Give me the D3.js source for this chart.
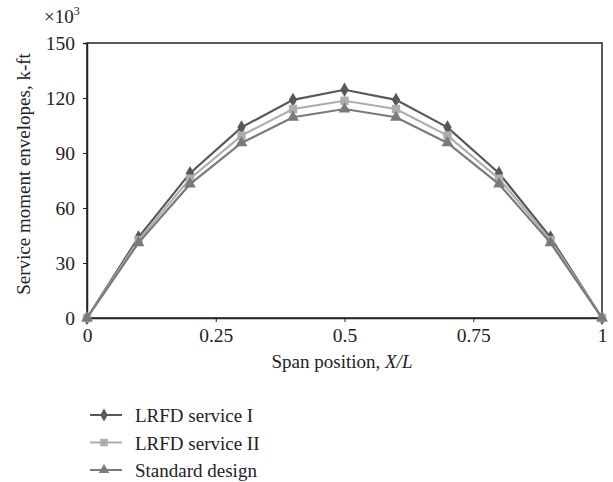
<!DOCTYPE html>
<html>
<head>
<meta charset="utf-8">
<script src="https://cdn.jsdelivr.net/npm/d3@7"></script>
<style>
  body { margin: 0; background: #fff; }
  text { font-family: "Liberation Serif", "DejaVu Serif", serif; }
</style>
</head>
<body>
<div id="chart"></div>
<script>
// Service moment envelopes along the span (values in thousands of k-ft).
const spanPos = [0, 0.1, 0.2, 0.3, 0.4, 0.5, 0.6, 0.7, 0.8, 0.9, 1];
const lrfdService1 = [0, 44, 79, 104, 119, 124.5, 119, 104, 79, 44, 0];
const lrfdService2 = [0, 42.5, 76, 99.5, 114, 118.5, 114, 99.5, 76, 42.5, 0];
const standardDesign = [0, 41, 73, 95.5, 109.5, 114, 109.5, 95.5, 73, 41, 0];

const xTicks = [0, 0.25, 0.5, 0.75, 1];
const yTicks = [0, 30, 60, 90, 120, 150];

const series = [
  { name: "LRFD service I", values: lrfdService1, color: "#585858", symbol: d3.symbolDiamond, size: 60 },
  { name: "LRFD service II", values: lrfdService2, color: "#adadad", symbol: d3.symbolSquare, size: 70 },
  { name: "Standard design", values: standardDesign, color: "#7a7a7a", symbol: d3.symbolTriangle, size: 60 },
];

const W = 613, H = 482;
const M = { top: 43, right: 11, bottom: 164, left: 87 };
const FS = 19;

const svg = d3.select("#chart").append("svg")
  .attr("width", W).attr("height", H);

const x = d3.scaleLinear().domain([0, 1]).range([M.left, W - M.right]);
const y = d3.scaleLinear().domain([0, 150]).range([H - M.bottom, M.top]);

// frame
svg.append("rect")
  .attr("x", x(0)).attr("y", y(150))
  .attr("width", x(1) - x(0)).attr("height", y(0) - y(150))
  .attr("fill", "none").attr("stroke", "#222").attr("stroke-width", 1.5);

const xAxis = svg.append("g")
  .attr("transform", `translate(0,${y(0)})`)
  .call(d3.axisBottom(x).tickValues(xTicks).tickSize(4).tickPadding(6)
    .tickFormat(d => d === 0 || d === 1 ? String(d) : d3.format(".2~f")(d)));
const yAxis = svg.append("g")
  .attr("transform", `translate(${x(0)},0)`)
  .call(d3.axisLeft(y).tickValues(yTicks).tickSize(4).tickPadding(8));

[xAxis, yAxis].forEach(g => {
  g.select(".domain").attr("stroke", "#222").attr("stroke-width", 1.5);
  g.selectAll(".tick line").attr("stroke", "#222");
  g.selectAll("text").attr("font-size", FS + 0.5).attr("fill", "#222")
    .attr("font-family", "Liberation Serif, serif");
});

// series lines and markers
const line = d3.line().x((_, i) => x(spanPos[i])).y(v => y(v));
series.forEach(s => {
  svg.append("path").datum(s.values)
    .attr("fill", "none").attr("stroke", s.color).attr("stroke-width", 2.2)
    .attr("d", line);
  svg.append("g").selectAll("path").data(s.values).join("path")
    .attr("transform", (v, i) => `translate(${x(spanPos[i])},${y(v)})`)
    .attr("d", d3.symbol().type(s.symbol).size(s.size))
    .attr("fill", s.color);
});

// axis titles
svg.append("text")
  .attr("transform", `translate(30,174) rotate(-90)`)
  .attr("text-anchor", "middle").attr("font-size", FS).attr("fill", "#222")
  .text("Service moment envelopes, k-ft");

const mult = svg.append("text").attr("x", 44).attr("y", 23)
  .attr("font-size", FS).attr("fill", "#222");
mult.append("tspan").text("×10");
mult.append("tspan").attr("font-size", 12).attr("dy", -8).text("3");

const xt = svg.append("text")
  .attr("x", 342).attr("y", 368)
  .attr("text-anchor", "middle").attr("font-size", FS).attr("fill", "#222");
xt.append("tspan").text("Span position, ");
xt.append("tspan").attr("font-style", "italic").text("X/L");

// legend
const leg = svg.append("g");
series.forEach((s, i) => {
  const ly = 415 + i * 27.5;
  leg.append("line").attr("x1", 90).attr("x2", 122).attr("y1", ly).attr("y2", ly)
    .attr("stroke", s.color).attr("stroke-width", 2);
  leg.append("path")
    .attr("transform", `translate(104,${ly})`)
    .attr("d", d3.symbol().type(s.symbol).size(s.size * 0.8))
    .attr("fill", s.color);
  leg.append("text").attr("x", 135).attr("y", ly + 7)
    .attr("font-size", FS).attr("fill", "#222").text(s.name);
});
</script>
</body>
</html>
